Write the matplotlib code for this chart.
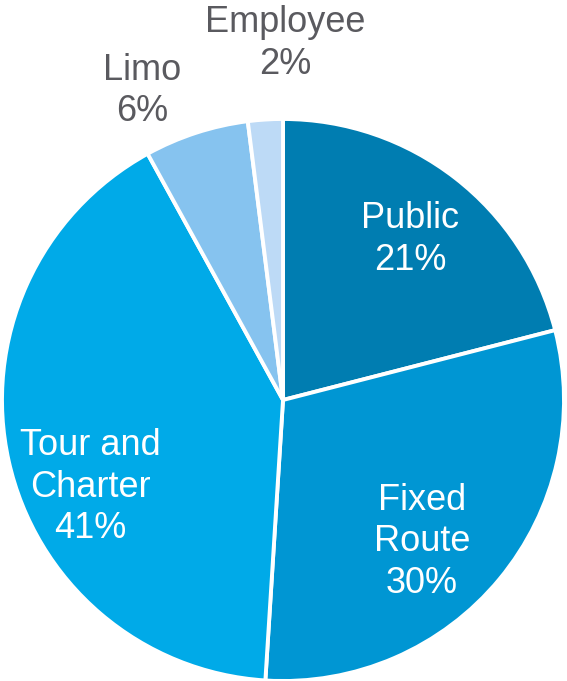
import matplotlib.pyplot as plt

plt.rcParams['font.family'] = ['Liberation Sans', 'DejaVu Sans']

# Anteile nach Segment
segmente = ['Public', 'Fixed\nRoute', 'Tour and\nCharter', 'Limo', 'Employee']
anteile = [21, 30, 41, 6, 2]
farben = ['#007DB1', '#0096D3', '#00AAE8', '#86C3EF', '#BDDAF6']
textfarben = ['white', 'white', 'white', '#5A5A5F', '#5A5A5F']

# Mittelpunkt der Beschriftung (x, y), Kreisradius = 1
label_pos = [(0.452, 0.57), (0.495, -0.505), (-0.687, -0.31), (-0.50, 1.10), (0.007, 1.27)]

fig = plt.figure(figsize=(5.67, 6.81), dpi=100)
ax = fig.add_axes([0, 0, 1, 1])

ax.pie(anteile, colors=farben, startangle=90, counterclock=False, radius=1.0,
       wedgeprops=dict(edgecolor='white', linewidth=2.8))

for name, wert, farbe, (x, y) in zip(segmente, anteile, textfarben, label_pos):
    ax.text(x, y, f'{name}\n{wert}%', ha='center', va='center',
            fontsize=26, color=farbe, linespacing=1.25)

ax.set_xlim(-283 / 281, 284 / 281)
ax.set_ylim(-1.0, 400 / 281)
ax.set_aspect('auto')
ax.axis('off')

fig.savefig('out.png', dpi=100)
